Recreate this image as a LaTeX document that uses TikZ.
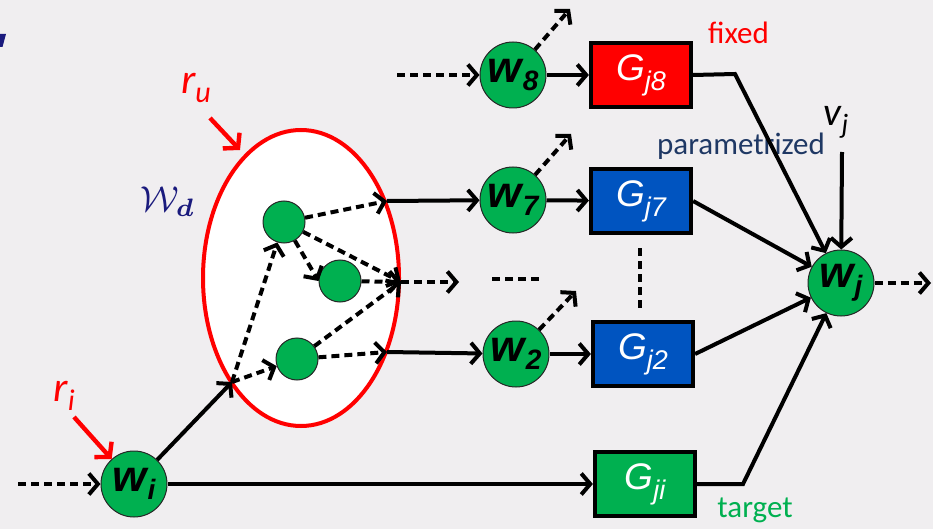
\documentclass[tikz,border=0pt]{standalone}
\usepackage{amsmath}
\usepackage{fontspec}
\setmainfont{Liberation Sans}
\newfontfamily\carl{Carlito}
\usetikzlibrary{arrows.meta,shapes.geometric}

\definecolor{bg}{RGB}{240,238,240}
\definecolor{gn}{RGB}{0,176,80}
\definecolor{rd}{RGB}{255,0,0}
\definecolor{bl}{RGB}{0,84,192}
\definecolor{navytext}{RGB}{31,56,100}
\definecolor{calblue}{RGB}{26,26,125}

% signal labels (bold italic w with subscript) and module labels (italic G)
\newcommand\wlab[1]{{\fontsize{44}{44}\selectfont\bfseries\itshape w\kern1pt\raisebox{-8pt}{\fontsize{28}{28}\selectfont #1}}}
\newcommand\glab[1]{{\fontsize{37}{37}\selectfont\itshape G\raisebox{-10pt}{\fontsize{27}{27}\selectfont #1}}}

\begin{document}
\begin{tikzpicture}[x=1pt,y=-1pt,
  sig/.style={circle, fill=gn, draw=black!85, line width=1pt, minimum size=66pt, inner sep=0pt},
  subsig/.style={circle, fill=gn, draw=black!85, line width=1pt, minimum size=42pt, inner sep=0pt},
  blk/.style={draw=black, line width=4.2pt, minimum width=100pt, minimum height=64pt, inner sep=0pt, text=white},
  arr/.style={line width=4pt, -{Straight Barb[length=9pt,width=21pt]}},
  darr/.style={arr, dash pattern=on 8pt off 5pt},
  dsh/.style={line width=4pt, dash pattern=on 8pt off 5pt},
  rarr/.style={draw=rd, line width=4.4pt, -{Straight Barb[length=10pt,width=23pt]}},
  lbl/.style={font=\carl\fontsize{31}{31}\selectfont, inner sep=0pt}
]
\useasboundingbox (0,0) rectangle (933,529);
\fill[bg] (0,0) rectangle (933,529);

% clipped glyph fragment at the left border
\fill[calblue] (0,34) -- (6,34) -- (2.5,47) -- (0,47) -- cycle;

% the dynamic network block
\node (Wd) [ellipse, draw=rd, line width=4pt, fill=white, minimum width=196pt, minimum height=296pt, inner sep=0pt] at (301,278) {};
\node (c1) [subsig] at (284,222) {};
\node (c2) [subsig] at (340,281) {};
\node (c3) [subsig] at (297,359) {};

\coordinate (ein) at (232,382);
\coordinate (e7) at (387,201);
\coordinate (emid) at (401,282);
\coordinate (e2) at (387,352);
\coordinate (mo) at (459,282);
\coordinate (dl) at (492,279);
\coordinate (dr) at (540,279);

% main signals
\node (wi) [sig] at (134,484) {\wlab{i}};
\node (w8) [sig] at (513,75) {\wlab{8}};
\node (w7) [sig] at (513,200) {\wlab{7}};
\node (w2) [sig] at (516,354) {\wlab{2}};
\node (wj) [sig] at (841,283) {\wlab{j}};

% modules
\node (G8) [blk, fill=rd] at (641,75) {\glab{j8}};
\node (G7) [blk, fill=bl] at (641,201) {\glab{j7}};
\node (G2) [blk, fill=bl] at (643,354) {\glab{j2}};
\node (Gi) [blk, fill=gn] at (645,484) {\glab{ji}};

% texts
\node (fx) [lbl, text=rd, anchor=west] at (708,33) {fixed};
\node (pz) [lbl, text=navytext] at (741,146) {parametrized};
\node (tg) [lbl, text=gn] at (755,510) {target};
\node (vj) at (836,122) {\carl\itshape\fontsize{40}{40}\selectfont v\raisebox{-8pt}{\fontsize{28}{28}\selectfont j}};
\node (ru) at (196,88) {\carl\itshape\fontsize{42}{42}\selectfont\color{rd}r\raisebox{-9pt}{\fontsize{30}{30}\selectfont u}};
\node (ri) at (64,396) {\carl\itshape\fontsize{42}{42}\selectfont\color{rd}r\raisebox{-9pt}{\fontsize{30}{30}\selectfont i}};
\node (wdl) [text=calblue] at (168,202) {\scalebox{3.6}{$\mathcal{W}_{\boldsymbol{d}}$}};

% free ends
\coordinate (ini) at (18,484);
\coordinate (in8) at (397,75);
\coordinate (o8) at (570,9);
\coordinate (o7) at (571,134);
\coordinate (o2) at (576,291);
\coordinate (k8) at (735,74);
\coordinate (ki) at (743,484);
\coordinate (vtop) at (842,152);
\coordinate (wo) at (931,283);
\coordinate (rus) at (210,118);
\coordinate (rut) at (240,150);
\coordinate (ris) at (74,417);
\coordinate (d7) at (640,248);
\coordinate (d2) at (640,308);

% connections inside the block
\draw[arr] (wi) -- (ein);
\draw[darr] (ein) -- (c1);
\draw[darr] (ein) -- (c3);
\draw[darr] (c1) -- (e7);
\draw[darr] (c1) -- (c2.west);
\draw[darr] (c1) -- (emid);
\draw[darr] (c2) -- (emid);
\draw[darr] (c3) -- (emid);
\draw[darr] (c3) -- (e2);
\draw[darr] (emid) -- (mo);
\draw[dsh] (dl) -- (dr);
\draw[arr] (e7) -- (w7);
\draw[arr] (e2) -- (w2);

% inputs and outputs of signals
\draw[darr] (ini) -- (wi);
\draw[darr] (in8) -- (w8);
\draw[darr] (w8) -- (o8);
\draw[darr] (w7) -- (o7);
\draw[darr] (w2) -- (o2);
\draw[arr] (w8) -- (G8);
\draw[arr] (w7) -- (G7);
\draw[arr] (w2) -- (G2);
\draw[arr] (wi) -- (Gi);

% into w_j
\draw[arr] (G8.east) -- (k8) -- (wj);
\draw[arr] (G7.east) -- (wj);
\draw[arr] (G2.east) -- (wj);
\draw[arr] (Gi.east) -- (ki) -- (wj);
\draw[arr] (vtop) -- (wj);
\draw[darr] (wj) -- (wo);
\draw[dsh] (d7) -- (d2);

% excitation arrows
\draw[rarr] (rus) -- (rut);
\draw[rarr] (ris) -- (wi);
\end{tikzpicture}
\end{document}
